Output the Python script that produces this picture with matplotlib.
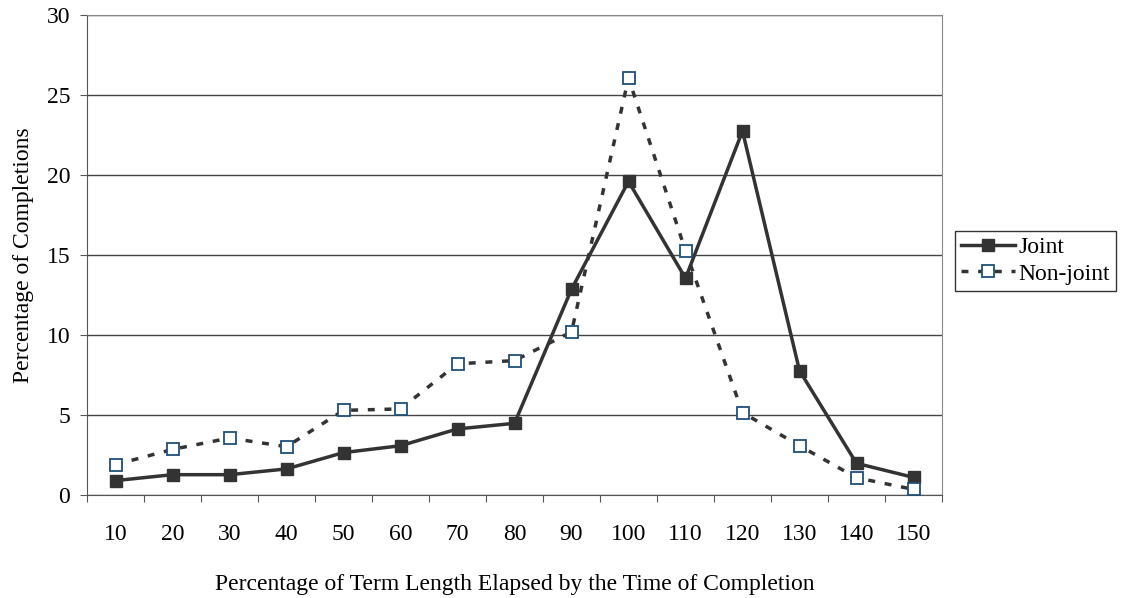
import numpy as np
import matplotlib
matplotlib.use("Agg")
from matplotlib import pyplot as plt
from matplotlib.ticker import FixedLocator, NullFormatter

plt.rcParams['font.family'] = ['Liberation Serif', 'DejaVu Serif']

# data
categories = [10, 20, 30, 40, 50, 60, 70, 80, 90, 100, 110, 120, 130, 140, 150]
joint = [0.9, 1.27, 1.27, 1.63, 2.65, 3.08, 4.13, 4.48, 12.86, 19.6, 13.55, 22.75, 7.77, 1.98, 1.1]
non_joint = [1.9, 2.85, 3.56, 3.02, 5.29, 5.38, 8.2, 8.4, 10.19, 26.06, 15.27, 5.15, 3.08, 1.08, 0.35]
yticks = [0, 5, 10, 15, 20, 25, 30]

FS = 17

fig = plt.figure(figsize=(11.22, 5.98), dpi=100)
ax = fig.add_axes([87/1122, 1 - 495/598, (942-87)/1122, (495-15)/598])

x = np.arange(1, len(categories) + 1)

ax.plot(x, joint, color='#333333', lw=2.5, marker='s', ms=8.5,
        mfc='#333333', mec='#333333', label='Joint', zorder=3)
ax.plot(x, non_joint, color='#333333', lw=2.5, ls=(0, (2, 2.8)), marker='s', ms=8.5,
        mfc='white', mec='#1f4e79', mew=1.3, label='Non-joint', zorder=3)

ax.set_xlim(0.5, len(categories) + 0.5)
ax.set_ylim(0, 30)
ax.set_yticks(yticks)
ax.set_yticklabels([str(v) for v in yticks], fontsize=FS)

# category labels centred, tick marks between categories
ax.xaxis.set_major_locator(FixedLocator(np.arange(0.5, len(categories) + 1, 1)))
ax.xaxis.set_major_formatter(NullFormatter())
ax.xaxis.set_minor_locator(FixedLocator(x))
ax.set_xticklabels([str(c) for c in categories], minor=True, fontsize=FS)
ax.tick_params(axis='x', which='major', length=5, color='#555555')
ax.tick_params(axis='x', which='minor', length=0, pad=21)
ax.tick_params(axis='y', length=5, color='#555555', pad=7)

ax.grid(axis='y', color='#444444', lw=1)
ax.set_axisbelow(True)
for s in ax.spines.values():
    s.set_color('#888888')
ax.spines['left'].set_color('#555555')
ax.spines['bottom'].set_color('#555555')

ax.set_xlabel('Percentage of Term Length Elapsed by the Time of Completion', fontsize=FS, labelpad=21)
ax.set_ylabel('Percentage of Completions', fontsize=FS, labelpad=9)

leg = fig.legend(loc='upper left', bbox_to_anchor=(955/1122, 1 - 231/598), fontsize=FS,
                 frameon=True, fancybox=False, edgecolor='black', borderaxespad=0,
                 handlelength=2.3, borderpad=0.25, labelspacing=0.2, handletextpad=0.15)
leg.get_frame().set_linewidth(1)

fig.savefig('out.png', dpi=100)
